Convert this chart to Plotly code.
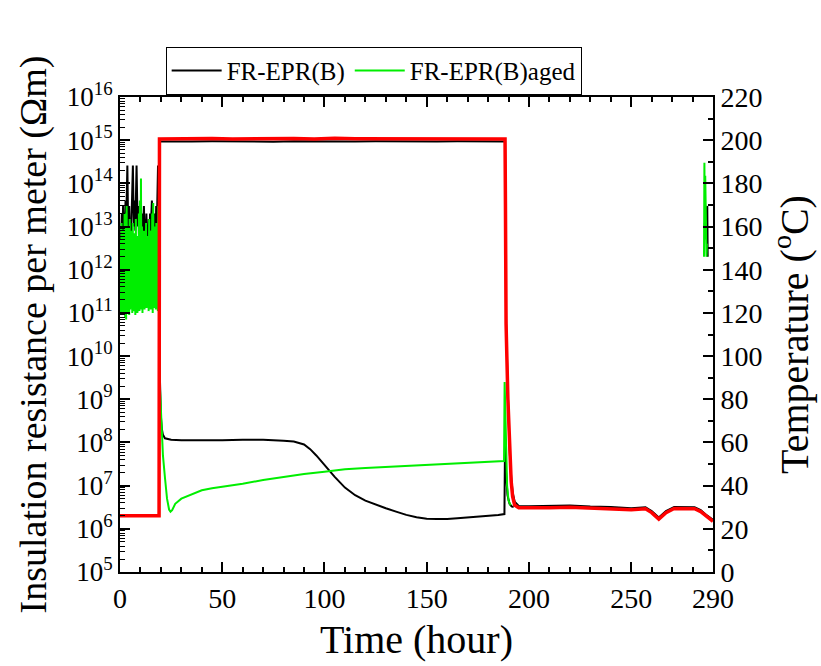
import plotly.graph_objects as go

# FR-EPR(B) insulation resistance (Ohm m) vs time (hour)
bk_t = [0, 0.3, 0.6, 0.9, 1.2, 1.5, 1.8, 2.1, 2.4, 2.7, 3.0, 3.3, 3.6, 3.9, 4.2, 4.5, 4.8, 5.1, 5.4, 5.7,
        6.0, 6.3, 6.6, 6.9, 7.2, 7.5, 7.8, 8.1, 8.4, 8.7, 9.0, 9.3, 9.6, 9.9, 10.2, 10.5, 10.8, 11.1, 11.4, 11.7,
        12.0, 12.3, 12.6, 12.9, 13.2, 13.5, 13.8, 14.1, 14.4, 14.7, 15.0, 15.3, 15.6, 15.9, 16.2, 16.5, 16.8, 17.1,
        17.4, 17.7, 18.0, 18.3, 18.6, 18.9, 19.2,
        19.4, 19.6, 20.0, 20.5, 21, 22, 25, 30, 40, 50, 60, 70, 80, 85, 90, 93, 96, 100, 105, 110, 115, 120, 125,
        130, 135, 140, 145, 150, 155, 160, 165, 170, 175, 180, 185, 188, 188.3, 188.8, 189.5, 190.5, 191.5, 192.5,
        None, 285.8, 287.2, 287.4]
bk_r = [8e11, 3e12, 1e13, 2e13, 5e12, 3e13, 8e12, 2e13, 6e12, 4e13, 1e13, 6e13, 2.6e14, 2e13, 5e12, 3e13, 8e12, 1.5e13, 4e12, 2e13,
        6e13, 2.6e14, 3e13, 1e13, 4e13, 8e12, 5e13, 2.6e14, 4e13, 1e13, 3e13, 6e12, 2e13, 5e12, 1.5e13, 3e12, 2e13, 5e12, 1.2e13, 3e13,
        7e12, 1.5e13, 4e12, 2e13, 6e12, 1e13, 3e12, 1.5e13, 5e12, 2e13, 8e12, 1.5e13, 4e13, 1e13, 3e12, 1e13, 4e12, 2e13,
        6e12, 3e13, 1e13, 5e13, 2.6e14, 3e13, 2.6e14,
        5e9, 1e9, 4e8, 2e8, 1.5e8, 1.25e8, 1.15e8, 1.12e8, 1.1e8, 1.12e8, 1.15e8, 1.15e8, 1.1e8, 1.05e8, 9e7, 7e7, 5e7, 3e7, 1.6e7, 9e6, 6e6, 4.5e6, 3.6e6,
        3e6, 2.5e6, 2.1e6, 1.85e6, 1.72e6, 1.68e6, 1.68e6, 1.75e6, 1.82e6, 1.9e6, 2e6, 2.1e6, 2.2e6, 1.1e8, 2e7, 6e6, 3.8e6, 3.3e6, 3.2e6,
        None, 1e13, 3e13, 2e12]

# FR-EPR(B)aged insulation resistance
gr_t = [0, 0.25, 0.5, 0.75, 1.0, 1.25, 1.5, 1.75, 2.0, 2.25, 2.5, 2.75, 3.0, 3.25, 3.5, 3.75, 4.0, 4.25, 4.5, 4.75,
        5.0, 5.25, 5.5, 5.75, 6.0, 6.25, 6.5, 6.75, 7.0, 7.25, 7.5, 7.75, 8.0, 8.25, 8.5, 8.75, 9.0, 9.25, 9.5, 9.75,
        10.0, 10.25, 10.5, 10.75, 11.0, 11.25, 11.5, 11.75, 12.0, 12.25, 12.5, 12.75, 13.0, 13.25, 13.5, 13.75,
        14.0, 14.25, 14.5, 14.75, 15.0, 15.25, 15.5, 15.75, 16.0, 16.25, 16.5, 16.75, 17.0, 17.25, 17.5, 17.75,
        18.0, 18.25, 18.5, 18.75, 19.0, 19.25,
        19.5, 20, 20.5, 21, 22, 23, 24, 24.7, 25.5, 27, 30, 35, 40, 45, 50, 60, 70, 80, 90, 100, 110, 120, 130,
        140, 150, 160, 170, 180, 187.8, 188.1, 188.6, 189.3, 190, 191,
        None, 285.6, 285.8, 286.0, 286.2, 286.4, 286.6, 286.8, 287.0]
gr_r = [2e11, 5e12, 1e11, 1.2e13, 1.5e11, 3e12, 9e10, 8e12, 1.2e11, 2e13, 8e10, 6e12, 7e10, 3e13, 1e11, 1e13, 1.3e11, 4e12, 9e10, 1.5e13,
        1.2e11, 5e12, 1.4e11, 8e12, 1e11, 1.2e13, 1.6e11, 4e12, 1.1e11, 7e12, 9e10, 1.5e13, 1.3e11, 3e12, 1e11, 6e12, 1.5e11, 2e13, 1.1e11, 4e13,
        1.2e11, 1.3e14, 1.4e11, 1e13, 1e11, 3e12, 1.6e11, 8e12, 1.2e11, 5e12, 1.8e11, 1.2e13, 1.3e11, 4e12, 1.5e11, 6e12,
        1.1e11, 1.5e13, 1.7e11, 3e12, 1.2e11, 8e12, 1.4e11, 2e13, 1e11, 3.5e13, 1.3e11, 1e13, 1.6e11, 5e12, 1.2e11, 1.2e13,
        1.5e11, 6e12, 1.1e11, 3e13, 1.4e11, 2e13,
        2e9, 5e8, 1.5e8, 5e7, 1.5e7, 5e6, 2.8e6, 2.5e6, 2.7e6, 3.8e6, 5e6, 6.2e6, 7.8e6, 8.7e6, 9.3e6, 1.1e7, 1.35e7, 1.6e7, 1.85e7, 2.1e7, 2.4e7, 2.55e7, 2.7e7,
        2.85e7, 3e7, 3.2e7, 3.35e7, 3.5e7, 3.7e7, 2.5e9, 1e8, 1e7, 4.5e6, 3.5e6,
        None, 2e12, 3e14, 5e12, 1.5e14, 1e13, 6e13, 2e12, 4e12]

# temperatures (degC), right axis
tr_t = [0, 19.1, 19.3, 25, 35, 45, 55, 65, 75, 85, 95, 105, 115, 125, 135, 145, 155, 165, 175, 185, 188.3,
        188.5, 188.8, 189.7, 190.5, 191.3, 192, 193, 195, 200, 210, 220, 230, 240, 250, 257, 260, 263.5, 267,
        271, 281, 284, 287, 290]
tr_red = [26, 26, 200.6, 200.7, 200.6, 200.8, 200.6, 200.7, 200.5, 200.8, 200.6, 200.9, 200.7, 200.7, 200.6, 200.8, 200.6, 200.7, 200.5, 200.7, 200.6,
          170, 115, 80, 55, 42, 35, 31, 29.8, 29.7, 29.8, 30.0, 29.6, 29.4, 28.8, 29.3, 27.5, 24.5, 27.5,
          29.4, 29.3, 28.0, 25.5, 23.5]
tr_blk = [26, 26, 199.4, 199.5, 199.4, 199.5, 199.4, 199.5, 199.3, 199.5, 199.4, 199.6, 199.4, 199.5, 199.4, 199.5, 199.4, 199.5, 199.4, 199.5, 199.4,
          172, 117, 82, 57, 44, 37, 32.5, 30.6, 30.5, 30.6, 30.8, 30.3, 30.1, 29.5, 30.0, 28.2, 25.2, 28.2,
          30.1, 30.0, 28.7, 26.2, 24.2]

fig = go.Figure()
fig.add_trace(go.Scatter(x=bk_t, y=bk_r, mode="lines", name="FR-EPR(B)",
                         line=dict(color="black", width=2)))
fig.add_trace(go.Scatter(x=gr_t, y=gr_r, mode="lines", name="FR-EPR(B)aged",
                         line=dict(color="#00ee00", width=2)))
fig.add_trace(go.Scatter(x=tr_t, y=tr_blk, mode="lines", yaxis="y2", showlegend=False,
                         line=dict(color="black", width=2)))
fig.add_trace(go.Scatter(x=tr_t, y=tr_red, mode="lines", yaxis="y2", showlegend=False,
                         line=dict(color="red", width=3.5)))

decades = list(range(5, 17))
fig.update_layout(
    width=821, height=666,
    margin=dict(l=120, r=107, t=97, b=90),
    paper_bgcolor="white", plot_bgcolor="white",
    font=dict(family="Liberation Serif", color="black", size=26),
    showlegend=True,
    legend=dict(orientation="h", x=0.077, xanchor="left", y=1.106, yanchor="top",
                bordercolor="black", borderwidth=1, bgcolor="white",
                font=dict(size=25), itemwidth=50, tracegroupgap=0),
    xaxis=dict(range=[0, 290], tickvals=[0, 50, 100, 150, 200, 250, 290],
               ticks="inside", ticklen=10, tickwidth=1.5, tickcolor="black",
               showline=True, linewidth=2, linecolor="black", mirror="ticks",
               showgrid=False, zeroline=False, tickfont=dict(size=28),
               minor=dict(tickvals=list(range(10, 290, 10)), ticks="inside", ticklen=5,
                          tickwidth=1.5, tickcolor="black", showgrid=False),
               title=dict(text="Time (hour)", font=dict(size=40), standoff=12)),
    yaxis=dict(type="log", range=[5, 16],
               tickvals=[10 ** k for k in decades],
               ticktext=["10<sup>%d</sup>" % k for k in decades],
               ticks="inside", ticklen=10, tickwidth=1.5, tickcolor="black",
               showline=True, linewidth=2, linecolor="black",
               showgrid=False, zeroline=False, tickfont=dict(size=27),
               minor=dict(tickvals=[m * 10 ** k for k in range(5, 16) for m in range(2, 10)],
                          ticks="inside", ticklen=5, tickwidth=1, tickcolor="black", showgrid=False),
               title=dict(text="Insulation resistance per meter (Ωm)", font=dict(size=38), standoff=8)),
    yaxis2=dict(overlaying="y", side="right", range=[0, 220], tick0=0, dtick=20,
                ticks="inside", ticklen=10, tickwidth=1.5, tickcolor="black",
                showline=True, linewidth=2, linecolor="black",
                showgrid=False, zeroline=False, tickfont=dict(size=28),
                minor=dict(dtick=10, ticks="inside", ticklen=5, tickwidth=1.5,
                           tickcolor="black", showgrid=False),
                title=dict(text="Temperature (<sup>o</sup>C)", font=dict(size=40), standoff=18)),
)

# page body margin would shift the figure by 8 px
fig.write_html("out.html", config={"displayModeBar": False},
               post_script="document.body.style.margin='0';")
